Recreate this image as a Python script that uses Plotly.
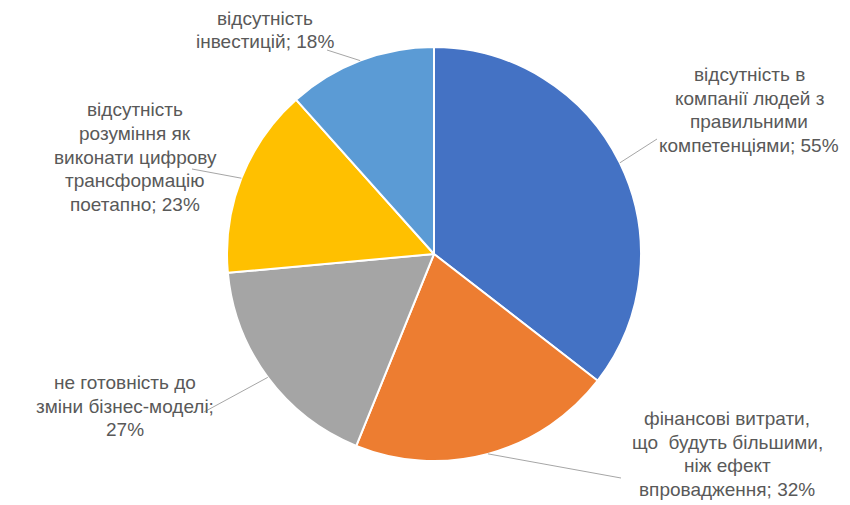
import math
import plotly.graph_objects as go

labels = [
    "відсутність в компанії людей з правильними компетенціями",
    "фінансові витрати, що  будуть більшими, ніж ефект впровадження",
    "не готовність до зміни бізнес-моделі",
    "відсутність розуміння як виконати цифрову трансформацію поетапно",
    "відсутність інвестицій",
]
values = [55, 32, 27, 23, 18]
colors = ["#4472C4", "#ED7D31", "#A5A5A5", "#FFC000", "#5B9BD5"]
label_lines = [
    ["відсутність в", "компанії людей з", "правильними", "компетенціями; 55%"],
    ["фінансові витрати,", "що  будуть більшими,", "ніж ефект", "впровадження; 32%"],
    ["не готовність до", "зміни бізнес-моделі;", "27%"],
    ["відсутність", "розуміння як", "виконати цифрову", "трансформацію", "поетапно; 23%"],
    ["відсутність", "інвестицій; 18%"],
]
# label block centres (px) and leader-line text-side ends (px)
label_pos = [(749, 110), (727, 454), (125, 406), (135, 157), (265, 30)]
line_ends = [(657, 139), (621, 478), (204, 412), (192, 169), (327, 50)]
LINE_H = 23.7

W, H = 850, 505
cx, cy, R = 434, 254, 207
dom_x = [(cx - R) / W, (cx + R) / W]
dom_y = [(H - cy - R) / H, (H - cy + R) / H]

fig = go.Figure(go.Pie(
    labels=labels, values=values, sort=False, direction="clockwise", rotation=0,
    marker=dict(colors=colors, line=dict(color="white", width=2)),
    textinfo="none", hoverinfo="label+value",
    domain=dict(x=dom_x, y=dom_y),
))

total = sum(values)
cum = 0
shapes = []
annotations = []
for v, lines, (lx, ly), (ex, ey) in zip(values, label_lines, label_pos, line_ends):
    mid = (cum + v / 2) / total * 2 * math.pi
    cum += v
    px = cx + R * math.sin(mid)
    py = cy - R * math.cos(mid)
    shapes.append(dict(type="line", xref="paper", yref="paper",
                       x0=px / W, y0=1 - py / H, x1=ex / W, y1=1 - ey / H,
                       line=dict(color="#A6A6A6", width=1)))
    n = len(lines)
    for i, t in enumerate(lines):
        yy = ly + (i - (n - 1) / 2) * LINE_H
        annotations.append(dict(text=t, xref="paper", yref="paper",
                                x=lx / W, y=1 - yy / H, xanchor="center", yanchor="middle",
                                showarrow=False,
                                font=dict(family="Liberation Sans, Arial", size=19, color="#595959")))

fig.update_layout(
    width=W, height=H, margin=dict(l=0, r=0, t=0, b=0),
    paper_bgcolor="white", plot_bgcolor="white", showlegend=False,
    shapes=shapes, annotations=annotations,
)
fig.write_html("out.html")
